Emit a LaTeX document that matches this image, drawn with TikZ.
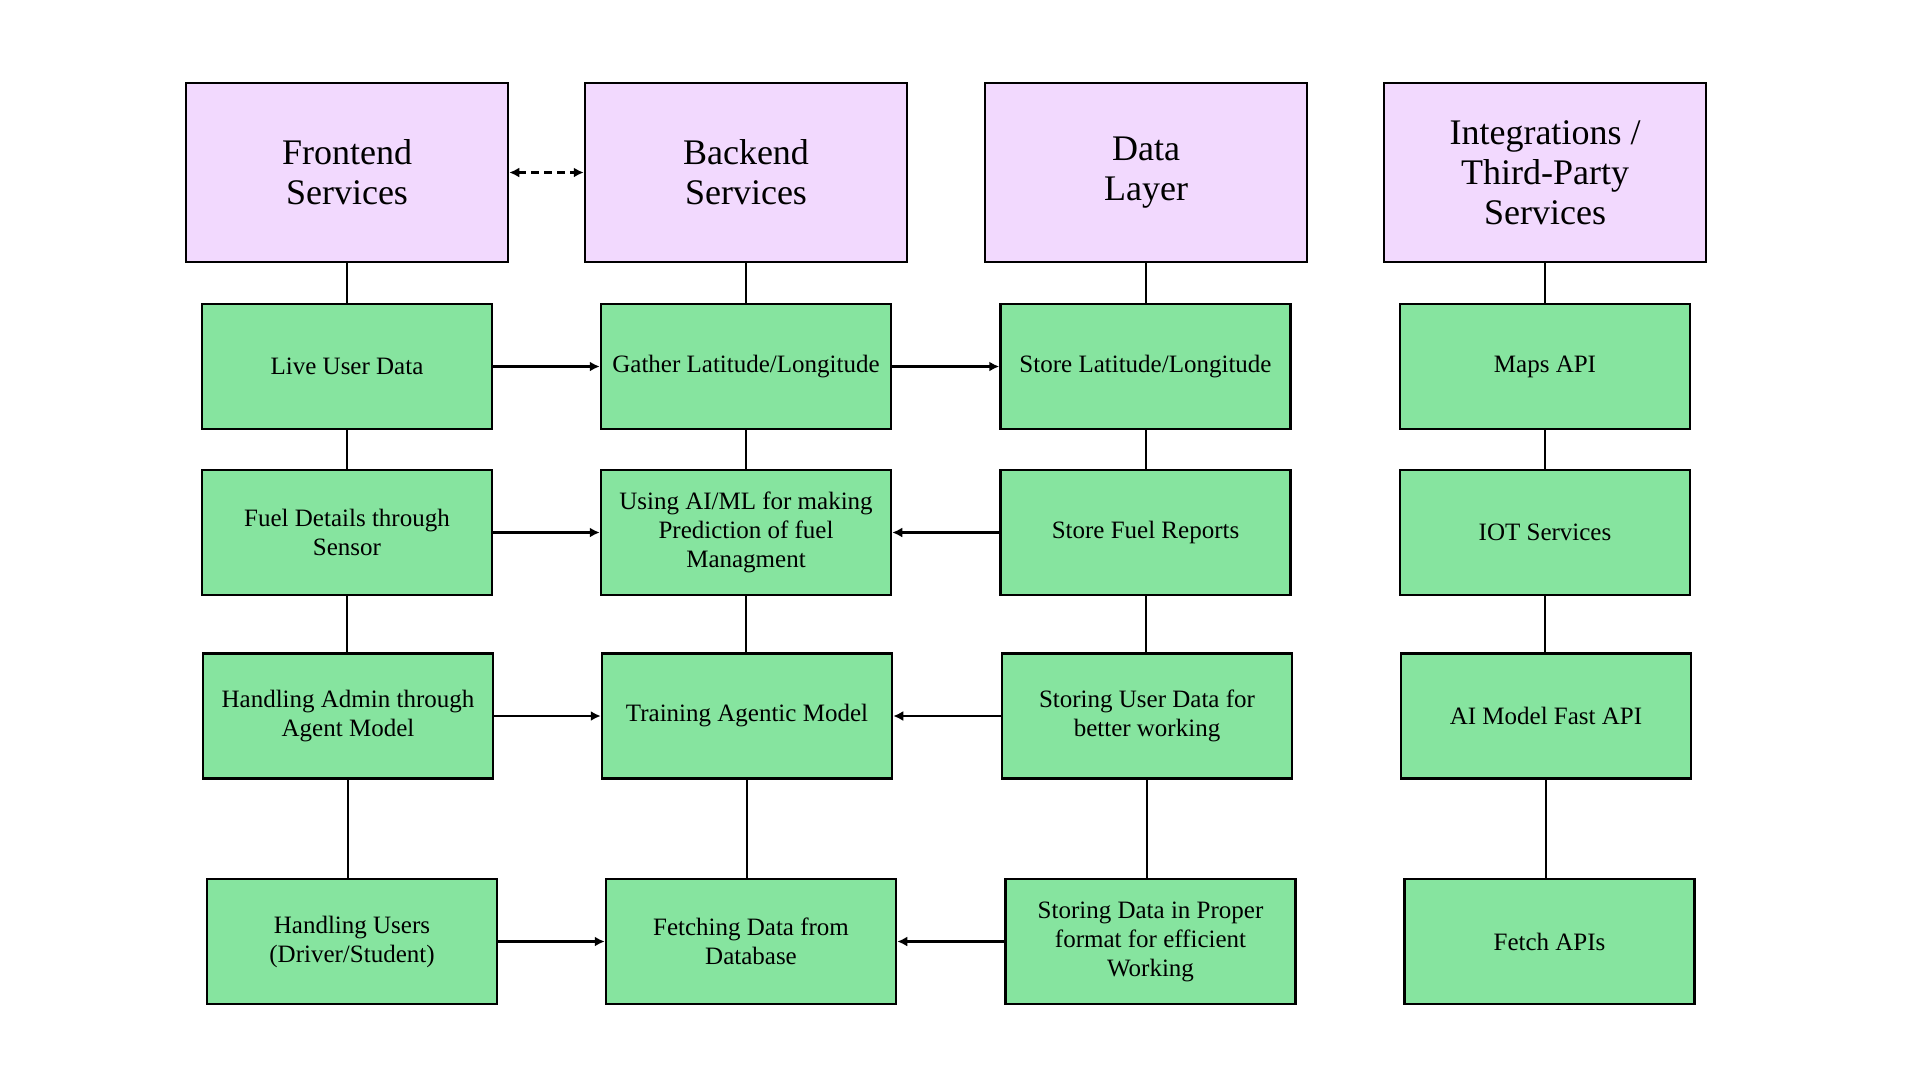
\documentclass[tikz,border=0pt]{standalone}
\usepackage{fontspec}
\setmainfont{Liberation Serif}
\usetikzlibrary{arrows.meta}
\definecolor{headfill}{RGB}{242,217,254}
\definecolor{itemfill}{RGB}{134,228,159}

\tikzset{
	layerbox/.style = {draw, line width = 2.5pt, fill = headfill, minimum width = 322pt,
		minimum height = 179pt, inner sep = 0pt, align = center,
		font = \fontsize{36}{40}\selectfont},
	itembox/.style = {draw, line width = 2.5pt, fill = itemfill, minimum width = 290pt,
		minimum height = 125pt, inner sep = 0pt, align = center,
		font = \fontsize{25}{29}\selectfont},
	link/.style = {line width = 2pt},
	flow/.style = {->, line width = 2.5pt}
}

\begin{document}
\begin{tikzpicture}[> = {Latex[length = 10pt, width = 10pt]}, x = 1pt, y = -1pt]

	% Page frame
	
	\useasboundingbox (0, 0) rectangle (1920, 1080);
	
	% Layer headers
	
	\node [layerbox] (front) at (347, 172.5) {Frontend\\Services};
	\node [layerbox] (back) at (746, 172.5) {Backend\\Services};
	\node [layerbox] (data) at (1146, 172.5) {Data\\Layer};
	\node [layerbox] (integ) at (1545, 172.5) {Integrations /\\Third-Party\\Services};
	
	% Frontend column
	
	\node [itembox] (live) at (347, 366.5) {Live User Data};
	\node [itembox] (fuel) at (347, 532.5) {Fuel Details through\\Sensor};
	\node [itembox] (admin) at (348, 716) {Handling Admin through\\Agent Model};
	\node [itembox] (users) at (352, 941.5) {Handling Users\\(Driver/Student)};
	
	% Backend column
	
	\node [itembox] (gather) at (746, 366.5) {Gather Latitude/Longitude};
	\node [itembox] (predict) at (746, 532.5) {Using AI/ML for making\\Prediction of fuel\\Managment};
	\node [itembox] (train) at (747, 716) {Training Agentic Model};
	\node [itembox] (fetch) at (751, 941.5) {Fetching Data from\\Database};
	
	% Data column
	
	\node [itembox] (storell) at (1145.5, 366.5) {Store Latitude/Longitude};
	\node [itembox] (reports) at (1145.5, 532.5) {Store Fuel Reports};
	\node [itembox] (storeuser) at (1147, 716) {Storing User Data for\\better working};
	\node [itembox] (format) at (1150.5, 941.5) {Storing Data in Proper\\format for efficient\\Working};
	
	% Integrations column
	
	\node [itembox] (maps) at (1545, 366.5) {Maps API};
	\node [itembox] (iot) at (1545, 532.5) {IOT Services};
	\node [itembox] (aiapi) at (1546, 716) {AI Model Fast API};
	\node [itembox] (apis) at (1549.5, 941.5) {Fetch APIs};
	
	% Vertical links
	
	\foreach \a/\b in {front/live, live/fuel, fuel/admin, admin/users,
		back/gather, gather/predict, predict/train, train/fetch,
		data/storell, storell/reports, reports/storeuser, storeuser/format,
		integ/maps, maps/iot, iot/aiapi, aiapi/apis}
		\draw [link] (\a.south) -- (\a.south |- \b.north);
	
	% Horizontal flows
	
	\draw [<->, line width = 2.5pt, dash pattern = on 8pt off 5pt] (front) -- (back);
	
	\begin{scope}[flow]
	
		\draw (live) -- (gather);
		\draw (fuel) -- (predict);
		\draw (admin) -- (train);
		\draw (users) -- (fetch);
		
		\draw (gather) -- (storell);
		\draw (reports) -- (predict);
		\draw (storeuser) -- (train);
		\draw (format) -- (fetch);
		
	\end{scope}
		
\end{tikzpicture}
\end{document}
